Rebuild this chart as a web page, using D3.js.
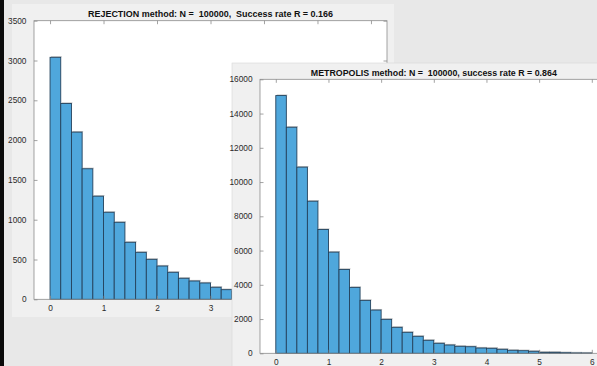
<!DOCTYPE html>
<html><head><meta charset="utf-8">
<script src="https://cdn.jsdelivr.net/npm/d3@7/dist/d3.min.js"></script>
<style>
html,body{margin:0;padding:0;background:#e8e8e8;}
svg{display:block;}
text{font-family:"Liberation Sans",Arial,Helvetica,sans-serif;}
</style></head>
<body>
<script>
// ---- data ----
const binWidth = 0.2;
const rejectionCounts = [3040,2460,2100,1640,1295,1093,967,716,590,502,418,339,264,230,205,151,121,100,85,70,55,45,35,28,20,15,10,7];
const metropolisCounts = [15050,13200,10870,8880,7230,5906,4897,3848,3090,2524,1982,1516,1224,991,758,583,484,408,385,309,291,233,175,152,117,58,58,35,20,15];
const rejectionYTicks = [0,500,1000,1500,2000,2500,3000,3500];
const metropolisYTicks = [0,2000,4000,6000,8000,10000,12000,14000,16000];
const xTicks = [0,1,2,3,4,5,6];
const rejectionTitle = "REJECTION method: N =  100000,  Success rate R = 0.166";
const metropolisTitle = "METROPOLIS method: N =  100000, success rate R = 0.864";

const W = 597, H = 366;
const svg = d3.select("body").append("svg").attr("width", W).attr("height", H);

// left black border
svg.append("rect").attr("x",0).attr("y",0).attr("width",4).attr("height",H).attr("fill","#0a0a0a");

function drawFigure(cfg){
  const g = svg.append("g");
  g.append("rect").attr("x",cfg.win[0]).attr("y",cfg.win[1]).attr("width",cfg.win[2]).attr("height",cfg.win[3])
    .attr("fill","#f0f0f0").attr("stroke", cfg.winStroke||"none").attr("stroke-width",0.6);
  const x = d3.scaleLinear().domain([-0.3,6.3]).range([cfg.left,cfg.right]);
  const y = d3.scaleLinear().domain([0,cfg.ymax]).range([cfg.bottom,cfg.top]);
  // plot area
  g.append("rect").attr("x",cfg.left).attr("y",cfg.top).attr("width",cfg.right-cfg.left).attr("height",cfg.bottom-cfg.top).attr("fill","#fff");
  const data = cfg.counts.map((c,i)=>({x0:i*binWidth,x1:(i+1)*binWidth,c}));
  // slight gray top shadow
  g.append("g").selectAll("line").data(data).join("line")
    .attr("x1",d=>x(d.x0)+1).attr("x2",d=>x(d.x1)+1)
    .attr("y1",d=>y(d.c)-0.6).attr("y2",d=>y(d.c)-0.6)
    .attr("stroke","#b0b0b0").attr("stroke-width",0.8);
  g.append("g").selectAll("rect").data(data).join("rect")
    .attr("x",d=>x(d.x0)).attr("y",d=>y(d.c))
    .attr("width",d=>x(d.x1)-x(d.x0)).attr("height",d=>y(0)-y(d.c))
    .attr("fill","#4fa7dc").attr("stroke","#24425c").attr("stroke-width",0.9);
  const axColor = "#8c8c8c";
  const ax = (gen, tr, labels) => {
    const a = g.append("g").attr("transform",tr).call(gen);
    a.select(".domain").remove();
    a.selectAll(".tick line").attr("stroke",axColor).attr("stroke-width",0.8);
    a.selectAll(".tick text").attr("fill","#2a2a2a").attr("font-size","8.3px");
    if(!labels) a.selectAll(".tick text").remove();
    return a;
  };
  const xa = ax(d3.axisBottom(x).tickValues(xTicks).tickFormat(d3.format("d")).tickSizeInner(-3.5).tickSizeOuter(0).tickPadding(6), `translate(0,${cfg.bottom})`, true);
  xa.selectAll(".tick text").attr("dy","0.71em");
  ax(d3.axisTop(x).tickValues(xTicks).tickSizeInner(-3.5).tickSizeOuter(0), `translate(0,${cfg.top})`, false);
  ax(d3.axisLeft(y).tickValues(cfg.yTicks).tickFormat(d3.format("d")).tickSizeInner(-3.5).tickSizeOuter(0).tickPadding(7.5), `translate(${cfg.left},0)`, true);
  ax(d3.axisRight(y).tickValues(cfg.yTicks).tickSizeInner(-3.5).tickSizeOuter(0), `translate(${cfg.right},0)`, false);
  g.append("rect").attr("x",cfg.left).attr("y",cfg.top).attr("width",cfg.right-cfg.left).attr("height",cfg.bottom-cfg.top)
    .attr("fill","none").attr("stroke",axColor).attr("stroke-width",0.8);
  g.append("text").attr("x",(cfg.left+cfg.right)/2).attr("y",cfg.titleY).attr("text-anchor","middle")
    .attr("font-size","8.6px").attr("font-weight","bold").attr("fill","#111")
    .style("white-space","pre").attr("textLength",cfg.titleLen).attr("lengthAdjust","spacingAndGlyphs")
    .text(cfg.title);
}

drawFigure({win:[12,4,382,313], left:34, right:387, top:20.7, bottom:299.3, ymax:3500,
  counts:rejectionCounts, yTicks:rejectionYTicks, title:rejectionTitle, titleY:17.3, titleLen:245});
drawFigure({win:[232,63,380,310], winStroke:"#d8d8d8", left:260, right:607.6, top:79.3, bottom:353.3, ymax:16000,
  counts:metropolisCounts, yTicks:metropolisYTicks, title:metropolisTitle, titleY:76, titleLen:246});
</script>
</body></html>
